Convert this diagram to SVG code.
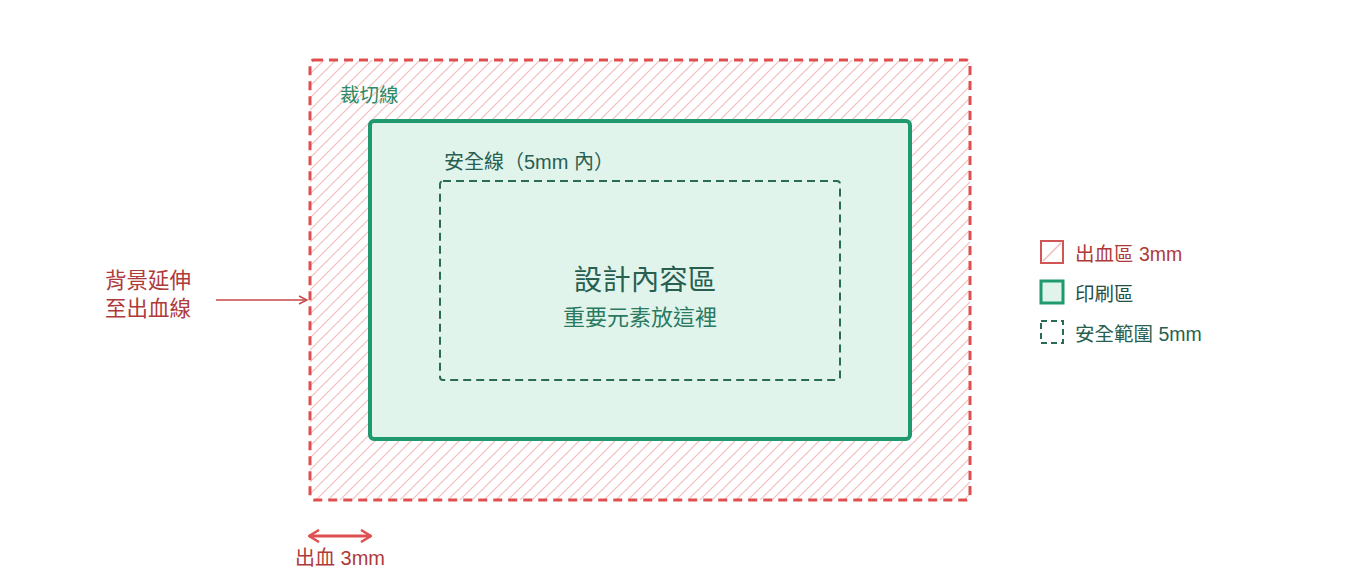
<svg xmlns="http://www.w3.org/2000/svg" width="1360" height="580" viewBox="0 0 1360 580">
<defs>
<pattern id="hatch" patternUnits="userSpaceOnUse" width="12" height="12">
<path d="M-3,3 L3,-3 M0,12 L12,0 M9,15 L15,9" stroke="#f3bcbc" stroke-width="1.2"/>
</pattern>
<marker id="ah" viewBox="0 0 10 10" refX="9" refY="5" markerWidth="10" markerHeight="10" markerUnits="userSpaceOnUse" orient="auto-start-reverse">
<path d="M1,1 L9,5 L1,9" fill="none" stroke="#c64848" stroke-width="1.5"/>
</marker>
<marker id="ah2" viewBox="0 0 12 14" refX="11" refY="7" markerWidth="12" markerHeight="14" markerUnits="userSpaceOnUse" orient="auto-start-reverse">
<path d="M1,1 L11,7 L1,13" fill="none" stroke="#e04f4f" stroke-width="2.5" stroke-linejoin="round"/>
</marker>
<style>
text{font-family:"Liberation Sans","Noto Sans CJK TC",sans-serif;}
.red{fill:#b03a3a;}
.grn{fill:#2e8b65;}
.dg{fill:#285f50;}
</style>
</defs>
<rect width="1360" height="580" fill="#ffffff"/>
<g id="bleed">
<rect x="310" y="60" width="660" height="440" rx="4" fill="url(#hatch)" stroke="#e04f4f" stroke-width="3" stroke-dasharray="9 6"/>
</g>
<g id="trim">
<rect x="370" y="121" width="540" height="318" rx="4" fill="#e1f4ec" stroke="#1f9a6e" stroke-width="4"/>
<text x="340" y="102" font-size="19.5" class="grn">裁切線</text>
</g>
<g id="safe">
<rect x="440" y="181" width="400" height="199" rx="3" fill="none" stroke="#2a6b58" stroke-width="2" stroke-dasharray="8 5"/>
<text x="444" y="168.5" font-size="20" class="dg">安全線（5mm 內）</text>
</g>
<g id="content">
<text x="645" y="289.5" font-size="28.5" text-anchor="middle" class="dg">設計內容區</text>
<text x="640" y="325" font-size="22" text-anchor="middle" fill="#2a7a60">重要元素放這裡</text>
</g>
<g id="note">
<text x="148" y="288" font-size="21.5" text-anchor="middle" class="red">背景延伸</text>
<text x="148" y="316" font-size="21.5" text-anchor="middle" class="red">至出血線</text>
</g>
<g id="bleedsize">
<text x="340" y="564.5" font-size="20" text-anchor="middle" class="red">出血 3mm</text>
</g>
<g id="connectors">
<line x1="216" y1="300" x2="307" y2="300" stroke="#c64848" stroke-width="1.5" marker-end="url(#ah)"/>
<line x1="309" y1="536" x2="371" y2="536" stroke="#e04f4f" stroke-width="3" marker-start="url(#ah2)" marker-end="url(#ah2)"/>
</g>
<g id="legend">
<rect x="1041" y="241" width="22" height="22" fill="#ffffff" stroke="#d05656" stroke-width="2"/>
<line x1="1043" y1="261" x2="1061" y2="243" stroke="#f3bcbc" stroke-width="1.5"/>
<text x="1075" y="260.5" font-size="19.5" class="red">出血區 3mm</text>
<rect x="1041" y="281" width="22" height="22" fill="#e1f4ec" stroke="#1f9a6e" stroke-width="3"/>
<text x="1075" y="300.5" font-size="19.5" fill="#1f4f45">印刷區</text>
<rect x="1041" y="321" width="22" height="22" fill="none" stroke="#2a6b58" stroke-width="2" stroke-dasharray="6 4"/>
<text x="1075" y="340.5" font-size="19.5" class="dg">安全範圍 5mm</text>
</g>
</svg>
